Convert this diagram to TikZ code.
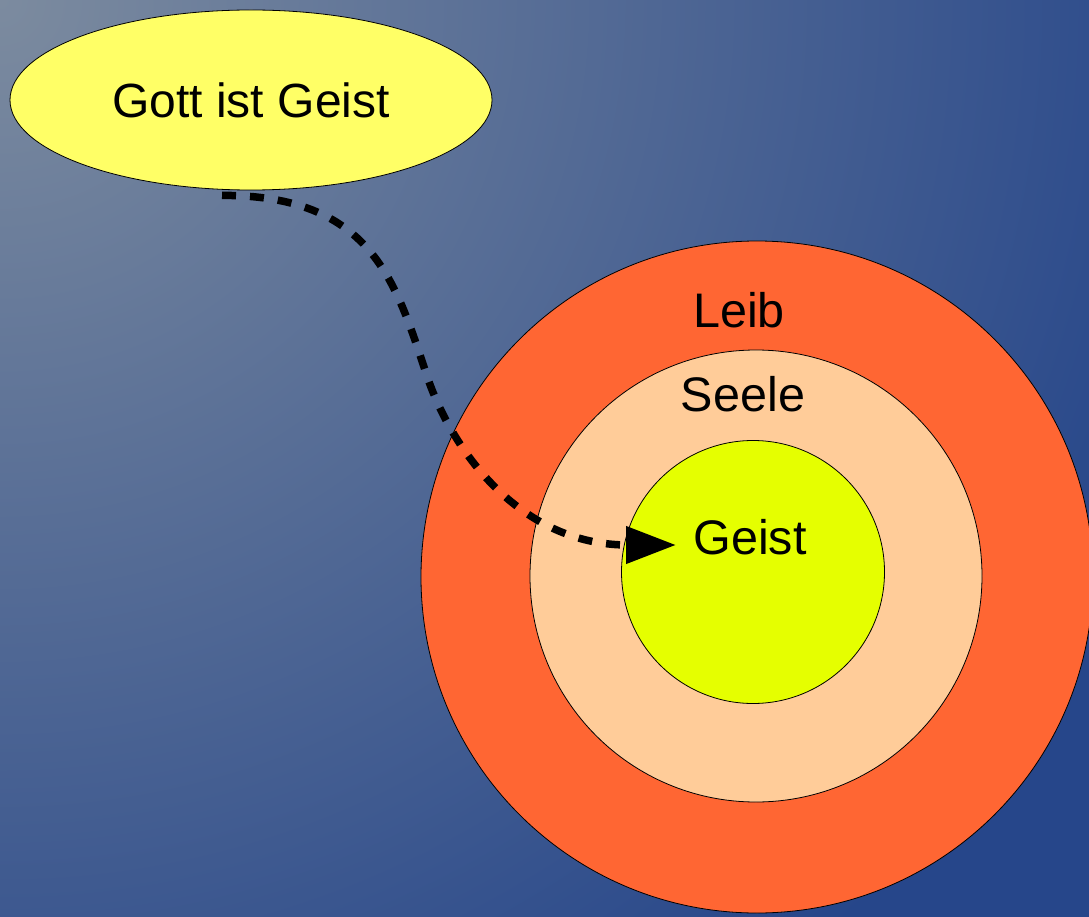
\documentclass[tikz,border=0pt]{standalone}
\usepackage{fontspec}
\setmainfont{Liberation Sans}
\usetikzlibrary{arrows.meta,shapes.geometric,calc}
\definecolor{bgdark}{HTML}{26468A}
\definecolor{bglight}{HTML}{7C8B9F}
\definecolor{leibc}{HTML}{FF6633}
\definecolor{seelec}{HTML}{FFCC99}
\definecolor{geistc}{HTML}{E5FF00}
\definecolor{gottc}{HTML}{FFFF66}
\tikzset{
  ring/.style={circle, draw=black, line width=0.8pt, inner sep=0pt},
  lbl/.style={anchor=base, inner sep=0pt, font=\fontsize{48.5}{54}\selectfont},
  flow/.style={line width=7.5pt, dash pattern=on 14pt off 14pt, -{Triangle[length=50pt,width=36pt]}}
}
\begin{document}
\begin{tikzpicture}[x=1pt,y=-1pt]
\useasboundingbox (0,0) rectangle (1089,917);
\begin{scope}
\clip (0,0) rectangle (1089,917);
\fill[bgdark] (0,0) rectangle (1089,917);
\shade[inner color=bglight, outer color=bgdark] (0,0) circle[radius=1250pt];
\end{scope}
% Leib / Seele / Geist rings
\node[ring, fill=leibc, minimum size=672pt] (leib) at (757,577) {};
\node[ring, fill=seelec, minimum size=452pt] (seele) at (756,576) {};
\node[ring, fill=geistc, minimum size=263pt] (geist) at (753,572) {};
\node[lbl] (leibt) at (739,327.5) {Leib};
\node[lbl] (seelet) at (743,411) {Seele};
\node[lbl] (geistt) at (750,554) {Geist};
% Gott ist Geist
\node[ellipse, draw=black, line width=0.8pt, fill=gottc, minimum width=482pt, minimum height=180pt, inner sep=0pt,
      font=\fontsize{48}{54}\selectfont] (gott) at (251,100) {Gott ist Geist};
% connector
\coordinate (start) at ($(gott.south)+(-29,5)$);
\coordinate (tip) at ($(geist.center)+(-77,-27)$);
\draw[flow] (start) .. controls (370,195) and (395,280) .. (425,370)
  .. controls (450,450) and (520,545) .. (tip);
\end{tikzpicture}
\end{document}
